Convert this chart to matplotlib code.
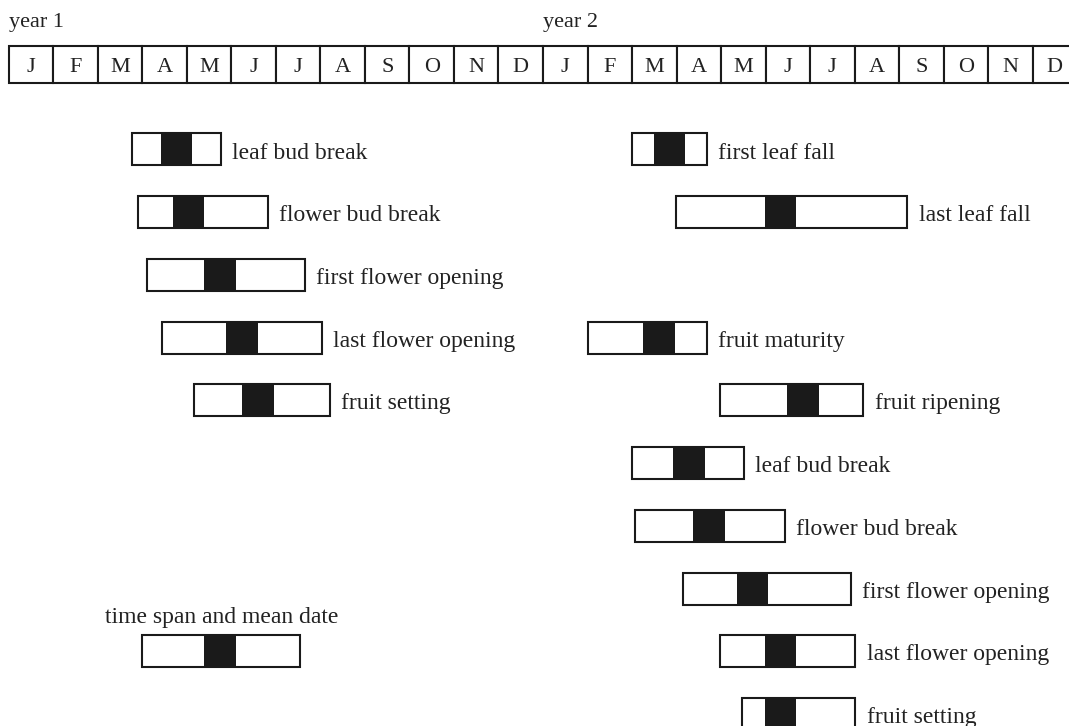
import matplotlib
matplotlib.use("Agg")
import matplotlib.pyplot as plt
import matplotlib.patches as patches

plt.rcParams['font.family'] = ['Liberation Serif', 'DejaVu Serif']

# month header (two years)
months = ["J", "F", "M", "A", "M", "J", "J", "A", "S", "O", "N", "D"] * 2
year_labels = ["year 1", "year 2"]

# phenophases, months counted from Jan of year 1 (0 = start of Jan)
y1_labels = ["leaf bud break", "flower bud break", "first flower opening",
             "last flower opening", "fruit setting"]
y1_rows = [0, 1, 2, 3, 4]
y1_start = [2.76, 2.90, 3.10, 3.43, 4.15]
y1_end = [4.76, 5.81, 6.65, 7.03, 7.21]
y1_mean = [3.76, 4.03, 4.74, 5.23, 5.60]

y2_labels = ["first leaf fall", "last leaf fall", "fruit maturity", "fruit ripening",
             "leaf bud break", "flower bud break", "first flower opening",
             "last flower opening", "fruit setting"]
y2_rows = [0, 1, 3, 4, 5, 6, 7, 8, 9]
y2_start = [13.99, 14.99, 13.00, 15.98, 13.99, 14.07, 15.14, 15.98, 16.48]
y2_end = [15.68, 20.19, 15.68, 19.20, 16.52, 17.44, 18.92, 19.02, 19.02]
y2_mean = [14.84, 17.34, 14.61, 17.84, 15.28, 15.73, 16.71, 17.34, 17.34]

legend_text = "time span and mean date"
legend_row = 8
legend_span = (3.00, 6.54, 4.74)

BOX_H = 0.51
MEAN_W = 0.71
LW = 1.5

fig = plt.figure(figsize=(10.69, 7.26), dpi=100)
ax = fig.add_axes([0, 0, 1, 1])
ax.set_xlim(-0.202, 23.82)
ax.set_ylim(9.19, -2.383)
ax.axis('off')

# header grid
for i, m in enumerate(months):
    ax.add_patch(patches.Rectangle((i, -1.649), 1, 0.589, facecolor='white',
                                   edgecolor='#1a1a1a', linewidth=LW))
    ax.annotate(m, (i + 0.5, -1.3545), xytext=(0, -5.5), textcoords='offset points',
                ha='center', va='baseline', fontsize=16, color='#222222')
for k, yl in enumerate(year_labels):
    ax.text(12 * k, -1.952, yl, ha='left', va='baseline', fontsize=16, color='#222222')


def span(start, end, mean, row):
    ax.add_patch(patches.Rectangle((start, row - BOX_H / 2), end - start, BOX_H,
                                   facecolor='white', edgecolor='#1a1a1a', linewidth=LW))
    ax.add_patch(patches.Rectangle((mean - MEAN_W / 2, row - BOX_H / 2), MEAN_W, BOX_H,
                                   facecolor='#1a1a1a', edgecolor='none'))


for labels, rows, st, en, mn in [(y1_labels, y1_rows, y1_start, y1_end, y1_mean),
                                 (y2_labels, y2_rows, y2_start, y2_end, y2_mean)]:
    for lab, r, s, e, m in zip(labels, rows, st, en, mn):
        span(s, e, m, r)
        ax.annotate(lab, (e, r), xytext=(8, -6.5), textcoords='offset points',
                    ha='left', va='baseline', fontsize=17, color='#222222')

# key
s, e, m = legend_span
span(s, e, m, legend_row)
ax.annotate(legend_text, ((s + e) / 2, legend_row - BOX_H / 2), xytext=(0, 9),
            textcoords='offset points', ha='center', va='baseline',
            fontsize=17, color='#222222')

fig.savefig("out.png", dpi=100)
